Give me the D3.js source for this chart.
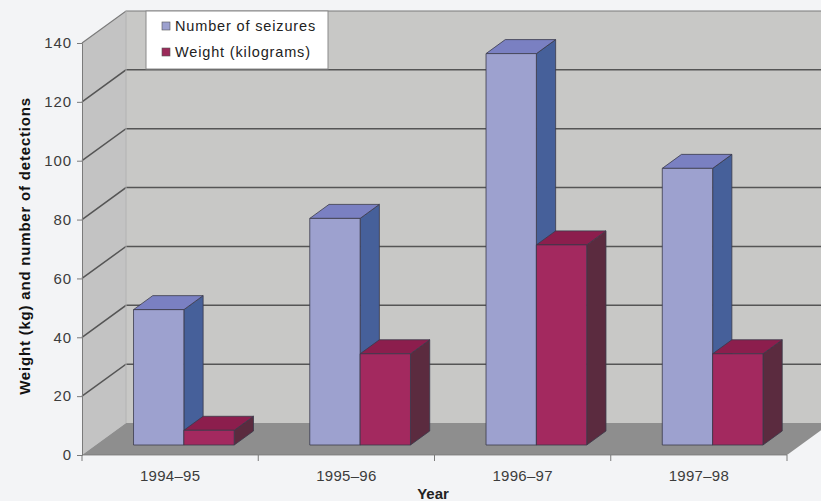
<!DOCTYPE html>
<html>
<head>
<meta charset="utf-8">
<script src="https://cdn.jsdelivr.net/npm/d3@7"></script>
<style>
  html, body { margin: 0; padding: 0; background: #f3f4f6; }
  svg { display: block; font-family: "Liberation Sans", Arial, Helvetica, sans-serif; }
</style>
</head>
<body>
<svg id="chart" width="821" height="501"></svg>
<script>
// Seizures and weights per financial year
const years = ["1994–95", "1995–96", "1996–97", "1997–98"];
const seriesNames = ["Number of seizures", "Weight (kilograms)"];
const seizures = [46, 77, 133, 94];
const weightKg = [5, 31, 68, 31];
const yTicks = [0, 20, 40, 60, 80, 100, 120, 140];

// face colours: front, top, side
const palette = {
  "Number of seizures": { front: "#9da1cf", top: "#7a80c2", side: "#46609a", swatch: "#9da1cf" },
  "Weight (kilograms)": { front: "#a3295f", top: "#8c1e4d", side: "#5b2b3f", swatch: "#9c2a5a" }
};

const svg = d3.select("#chart");

// front plane of the plot and the depth offset of the back wall
const plotLeft = 82, plotRight = 787, plotBottom = 455, plotTop = 43;
const depthX = 44, depthY = -32;

const x = d3.scaleBand().domain(years).range([plotLeft, plotRight]).paddingInner(0).paddingOuter(0);
const inner = d3.scaleBand().domain(seriesNames).range([0, x.bandwidth()]).paddingInner(0).paddingOuter(0.75);
const y = d3.scaleLinear().domain([0, 140]).range([plotBottom, plotTop]);

// shift a front-plane point back by depth d (0 = front, 1 = back wall)
const at = (px, py, d) => [px + depthX * d, py + depthY * d];
const poly = pts => "M" + pts.map(p => p.join(",")).join("L") + "Z";

const g = svg.append("g");

// back wall
const wallRight = plotRight + depthX + 40;
g.append("path")
  .attr("d", poly([at(plotLeft, y(140), 1), [wallRight, y(140) + depthY], [wallRight, y(0) + depthY], at(plotLeft, y(0), 1)]))
  .attr("fill", "#c8c8c6");
// side wall
g.append("path")
  .attr("d", poly([[plotLeft, y(140)], at(plotLeft, y(140), 1), at(plotLeft, y(0), 1), [plotLeft, y(0)]]))
  .attr("fill", "#c3c3c3");
// floor
g.append("path")
  .attr("d", poly([[plotLeft, y(0)], [plotRight, y(0)], at(plotRight, y(0), 1), at(plotLeft, y(0), 1)]))
  .attr("fill", "#8e8e8e");

// gridlines on side wall and back wall
yTicks.filter(v => v > 0).forEach(v => {
  const f = [plotLeft, y(v)], b = at(plotLeft, y(v), 1);
  g.append("path")
    .attr("d", `M${f.join(",")}L${b.join(",")}L${wallRight},${b[1]}`)
    .attr("fill", "none")
    .attr("stroke", v === 140 ? "#7a7a7a" : "#555555")
    .attr("stroke-width", v === 140 ? 1.2 : 1.5);
});
// back corner edge
g.append("line")
  .attr("x1", plotLeft + depthX).attr("y1", y(140) + depthY)
  .attr("x2", plotLeft + depthX).attr("y2", y(0) + depthY)
  .attr("stroke", "#b2b2b2").attr("stroke-width", 1);

// 3D bars
const dFront = 0.3125, dBack = 0.75;
const barData = [];
years.forEach((yr, i) => {
  barData.push({ year: yr, series: seriesNames[0], value: seizures[i] });
  barData.push({ year: yr, series: seriesNames[1], value: weightKg[i] });
});

const bars = g.selectAll("g.bar").data(barData).join("g").attr("class", "bar");
bars.each(function (d) {
  const sel = d3.select(this);
  const c = palette[d.series];
  const x0 = x(d.year) + inner(d.series), x1 = x0 + inner.bandwidth();
  const yT = y(d.value), yB = y(0);
  const fTL = at(x0, yT, dFront), fTR = at(x1, yT, dFront), fBR = at(x1, yB, dFront), fBL = at(x0, yB, dFront);
  const bTL = at(x0, yT, dBack), bTR = at(x1, yT, dBack), bBR = at(x1, yB, dBack);
  const face = (pts, fill) => sel.append("path").attr("d", poly(pts)).attr("fill", fill)
    .attr("stroke", "#3a3a4a").attr("stroke-width", 0.8).attr("stroke-linejoin", "round");
  face([fTR, bTR, bBR, fBR], c.side);
  face([fTL, fTR, bTR, bTL], c.top);
  face([fTL, fTR, fBR, fBL], c.front);
});

// value axis
const yAxis = d3.axisLeft(y).tickValues(yTicks).tickSize(5).tickPadding(5).tickFormat(d3.format("d"));
const ya = svg.append("g").attr("transform", `translate(${plotLeft},0)`).call(yAxis);
ya.select(".domain").attr("stroke", "#7a7a7a");
ya.selectAll(".tick line").attr("stroke", "#7a7a7a");
ya.selectAll(".tick text").attr("fill", "#3c3c3c").style("font-size", "15px").style("letter-spacing", "0.9px");

// category axis: labels in band centres, ticks at band edges
const xAxis = d3.axisBottom(x).tickSize(0).tickPadding(15);
const xa = svg.append("g").attr("transform", `translate(0,${plotBottom})`).call(xAxis);
xa.select(".domain").remove();
xa.selectAll(".tick text").attr("fill", "#3c3c3c").style("font-size", "15px").style("letter-spacing", "0.3px");
const edges = years.map(yr => x(yr)).concat([x(years[years.length - 1]) + x.bandwidth()]);
svg.append("g").selectAll("line").data(edges).join("line")
  .attr("x1", d => d).attr("x2", d => d)
  .attr("y1", plotBottom).attr("y2", plotBottom + 6)
  .attr("stroke", "#7a7a7a");
svg.append("line")
  .attr("x1", plotLeft).attr("x2", plotRight).attr("y1", plotBottom).attr("y2", plotBottom)
  .attr("stroke", "#7a7a7a").attr("stroke-width", 0.8);

// axis titles
svg.append("text")
  .attr("transform", `translate(30,246) rotate(-90)`)
  .attr("text-anchor", "middle")
  .style("font-size", "15px").style("font-weight", "bold").style("letter-spacing", "0.8px").attr("fill", "#111")
  .text("Weight (kg) and number of detections");
svg.append("text")
  .attr("x", 433).attr("y", 499)
  .attr("text-anchor", "middle")
  .style("font-size", "15px").style("font-weight", "bold").attr("fill", "#222")
  .text("Year");

// legend
const lg = svg.append("g").attr("transform", "translate(146,11)");
lg.append("rect").attr("width", 182).attr("height", 58)
  .attr("fill", "#ffffff").attr("stroke", "#8a8a8a").attr("stroke-width", 1);
seriesNames.forEach((name, i) => {
  const row = lg.append("g").attr("transform", `translate(16,${15 + i * 26})`);
  row.append("rect").attr("x", 0).attr("y", -4).attr("width", 8).attr("height", 8)
    .attr("fill", palette[name].swatch).attr("stroke", "#555").attr("stroke-width", 0.6);
  row.append("text").attr("x", 13).attr("y", 5)
    .style("font-size", "14.5px").style("letter-spacing", "0.85px").attr("fill", "#222").text(name);
});
</script>
</body>
</html>
